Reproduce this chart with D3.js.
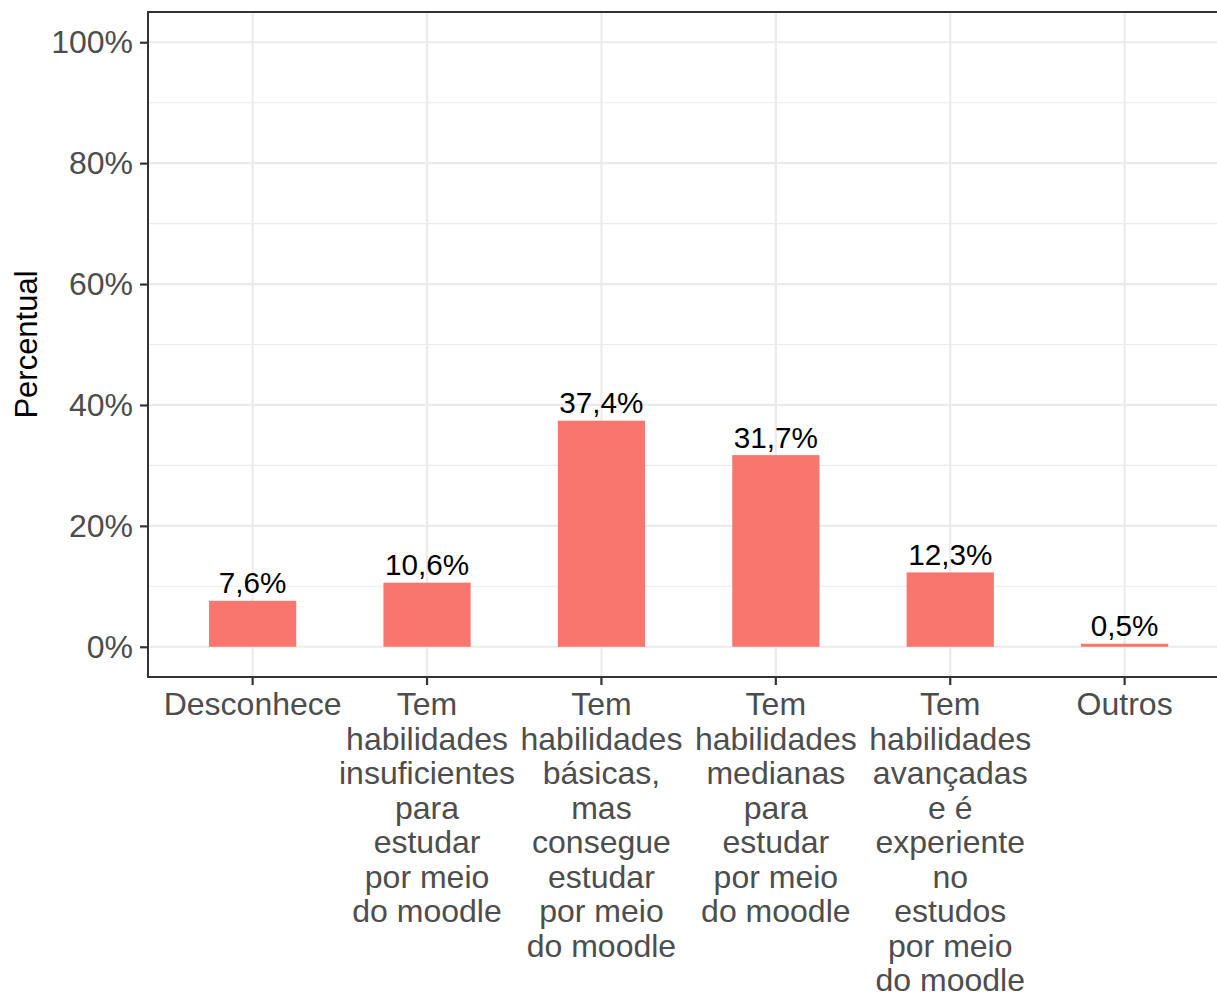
<!DOCTYPE html>
<html>
<head>
<meta charset="utf-8">
<script src="https://cdn.jsdelivr.net/npm/d3@7"></script>
<style>
  body { margin: 0; background: #fff; }
  svg { display: block; font-family: "Liberation Sans", Arial, sans-serif; }
</style>
</head>
<body>
<div id="chart"></div>
<script>
// data
var categories = [
  "Desconhece",
  "Tem habilidades insuficientes para estudar por meio do moodle",
  "Tem habilidades básicas, mas consegue estudar por meio do moodle",
  "Tem habilidades medianas para estudar por meio do moodle",
  "Tem habilidades avançadas e é experiente no estudos por meio do moodle",
  "Outros"
];
var catLines = [
  ["Desconhece"],
  ["Tem", "habilidades", "insuficientes", "para", "estudar", "por meio", "do moodle"],
  ["Tem", "habilidades", "básicas,", "mas", "consegue", "estudar", "por meio", "do moodle"],
  ["Tem", "habilidades", "medianas", "para", "estudar", "por meio", "do moodle"],
  ["Tem", "habilidades", "avançadas", "e é", "experiente", "no", "estudos", "por meio", "do moodle"],
  ["Outros"]
];
var values = [7.6, 10.6, 37.4, 31.7, 12.3, 0.5];
var yTicks = [0, 20, 40, 60, 80, 100];
var yMinor = [10, 30, 50, 70, 90];

var data = categories.map(function(c, i) {
  return {cat: c, lines: catLines[i], value: values[i]};
});

var W = 1217, H = 993;
// panel box (right side runs past the picture edge)
var panelL = 148, panelT = 12, panelB = 677;
var step = 174.4;
var panelR = panelL + 6.2 * step;

var svg = d3.select("#chart").append("svg")
  .attr("width", W)
  .attr("height", H);

var x = d3.scaleBand()
  .domain(categories)
  .range([panelL, panelR])
  .paddingInner(0)
  .paddingOuter(0.1);

var y = d3.scaleLinear()
  .domain([-5, 105])
  .range([panelB, panelT]);

// panel background
svg.append("rect")
  .attr("x", panelL).attr("y", panelT)
  .attr("width", panelR - panelL).attr("height", panelB - panelT)
  .attr("fill", "#fff");

// minor grid
svg.selectAll("line.minor")
  .data(yMinor)
  .enter().append("line")
  .attr("class", "minor")
  .attr("x1", panelL).attr("x2", panelR)
  .attr("y1", function(d) { return y(d); })
  .attr("y2", function(d) { return y(d); })
  .attr("stroke", "#EBEBEB")
  .attr("stroke-width", 1.1);

// major grid
svg.selectAll("line.majory")
  .data(yTicks)
  .enter().append("line")
  .attr("class", "majory")
  .attr("x1", panelL).attr("x2", panelR)
  .attr("y1", function(d) { return y(d); })
  .attr("y2", function(d) { return y(d); })
  .attr("stroke", "#EBEBEB")
  .attr("stroke-width", 2.2);

svg.selectAll("line.majorx")
  .data(categories)
  .enter().append("line")
  .attr("class", "majorx")
  .attr("y1", panelT).attr("y2", panelB)
  .attr("x1", function(d) { return x(d) + x.bandwidth() / 2; })
  .attr("x2", function(d) { return x(d) + x.bandwidth() / 2; })
  .attr("stroke", "#EBEBEB")
  .attr("stroke-width", 2.2);

// bars
var bw = x.bandwidth() * 0.5;
svg.selectAll("rect.bar")
  .data(data)
  .enter().append("rect")
  .attr("class", "bar")
  .attr("x", function(d) { return x(d.cat) + x.bandwidth() / 2 - bw / 2; })
  .attr("width", bw)
  .attr("y", function(d) { return y(d.value); })
  .attr("height", function(d) { return y(0) - y(d.value); })
  .attr("fill", "#F8766D");

// value labels
svg.selectAll("text.lab")
  .data(data)
  .enter().append("text")
  .attr("class", "lab")
  .attr("x", function(d) { return x(d.cat) + x.bandwidth() / 2; })
  .attr("y", function(d) { return y(d.value) - 7.5; })
  .attr("text-anchor", "middle")
  .style("font-size", "29.7px")
  .attr("fill", "#000")
  .text(function(d) { return d.value.toFixed(1).replace(".", ",") + "%"; });

// panel border
svg.append("rect")
  .attr("x", panelL).attr("y", panelT)
  .attr("width", panelR - panelL).attr("height", panelB - panelT)
  .attr("fill", "none")
  .attr("stroke", "#333333")
  .attr("stroke-width", 2);

// y axis
var yAxis = svg.append("g")
  .attr("transform", "translate(" + panelL + ",0)")
  .call(d3.axisLeft(y).tickValues(yTicks).tickSize(8).tickPadding(7)
    .tickFormat(function(d) { return d + "%"; }));
yAxis.select(".domain").remove();
yAxis.selectAll(".tick line").attr("stroke", "#333333").attr("stroke-width", 2.2);
yAxis.selectAll(".tick text")
  .attr("fill", "#4D4D4D")
  .style("font-size", "32px")
  .style("font-family", "Liberation Sans, Arial, sans-serif");

// x axis
var xAxis = svg.append("g")
  .attr("transform", "translate(0," + panelB + ")")
  .call(d3.axisBottom(x).tickSize(8).tickFormat(""));
xAxis.select(".domain").remove();
xAxis.selectAll(".tick line").attr("stroke", "#333333").attr("stroke-width", 2.2);

// multi-line category labels
var xl = svg.selectAll("text.xlab")
  .data(data)
  .enter().append("text")
  .attr("class", "xlab")
  .attr("text-anchor", "middle")
  .attr("fill", "#4D4D4D")
  .style("font-size", "32px");
xl.each(function(d) {
  var cx = x(d.cat) + x.bandwidth() / 2;
  d3.select(this).selectAll("tspan")
    .data(d.lines)
    .enter().append("tspan")
    .attr("x", cx)
    .attr("y", function(l, i) { return 715 + i * 34.5; })
    .text(function(l) { return l; });
});

// y title
svg.append("text")
  .attr("transform", "translate(37," + ((panelT + panelB) / 2) + ") rotate(-90)")
  .attr("text-anchor", "middle")
  .style("font-size", "31px")
  .attr("fill", "#000")
  .text("Percentual");
</script>
</body>
</html>
